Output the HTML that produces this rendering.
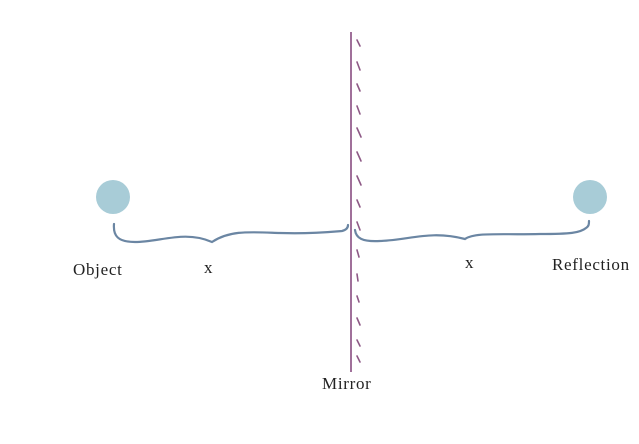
<!DOCTYPE html>
<html><head><style>body{margin:0;background:#fff}svg{display:block}</style></head><body>
<svg width="639" height="444" viewBox="0 0 639 444" xmlns="http://www.w3.org/2000/svg">
<line x1="351" y1="32" x2="351" y2="372" stroke="#a0709a" stroke-width="2"/>
<g stroke="#8e5a86" stroke-width="1.6" stroke-linecap="round" fill="none">
<path d="M357 40 l3 6"/><path d="M357 62 l3 8"/><path d="M357 84 l3 7"/><path d="M357 106 l3 8"/><path d="M357 128 l4 9"/><path d="M357 152 l4 9"/><path d="M357 176 l4 9"/><path d="M357 200 l3 7"/><path d="M357 222 l3 8"/><path d="M357 250 l2 7"/><path d="M357 274 l1 7"/><path d="M357 296 l2 6"/><path d="M357 318 l3 7"/><path d="M357 340 l3 6"/><path d="M357 356 l3 6"/>
</g>
<circle cx="113" cy="197" r="17" fill="#a8ccd7"/>
<circle cx="590" cy="197" r="17" fill="#a8ccd7"/>
<g stroke="#6b86a3" stroke-width="2.2" fill="none" stroke-linecap="round">
<path d="M114 224 C113 236 118 242 135 242 C160 242 185 230 212 242 C230 230 250 232 280 233 C310 234 330 232 342 231 C346 230 348 228 348 225"/>
<path d="M355 230 C356 238 362 242 380 241 C410 240 430 230 465 239 C475 232 500 235 540 234 C570 234 580 233 586 228 C589 226 589 224 589 221"/>
</g>
<g font-family="Liberation Serif, serif" font-size="17" letter-spacing="0.7" fill="#222">
<text x="73" y="275">Object</text>
<text x="204" y="273">x</text>
<text x="465" y="268">x</text>
<text x="552" y="270">Reflection</text>
<text x="322" y="389">Mirror</text>
</g>
</svg>
</body></html>
